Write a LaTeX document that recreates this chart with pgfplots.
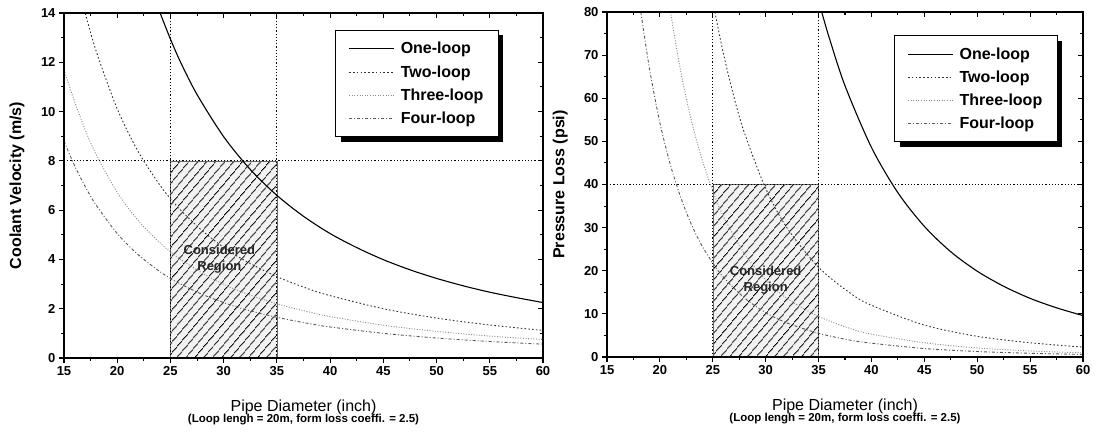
\documentclass[border=0pt]{standalone}
\usepackage{fontspec}
\setmainfont{Liberation Sans}
\usepackage{pgfplots}
\pgfplotsset{compat=1.18}
\usetikzlibrary{patterns.meta,shadows}

\makeatletter
\tikzset{nopre/.code={\let\tikz@preactions\pgfutil@empty}}
\makeatother

\tikzset{
  subtext/.style={font=\bfseries\fontsize{11.5}{12}\selectfont, anchor=center},
  crtext/.style={font=\bfseries\fontsize{13}{16}\selectfont, text=black!85, align=center},
}

\pgfplotsset{
  base/.style={
    scale only axis, height=345pt,
    xmin=15, xmax=60, xtick={15,20,...,60}, minor x tick num=1,
    axis line style={line width=1.3pt},
    tick style={line width=1.1pt, black},
    major tick length=5pt, minor tick length=3pt,
    tick label style={font=\bfseries\fontsize{13}{13}\selectfont},
    /pgf/number format/assume math mode=true,
    clip mode=individual,
  },
  frontaxis/.style={
    base, tick align=outside, xtick pos=left, ytick pos=left,
    xlabel style={at={(axis description cs:0.5,-0.143)}, anchor=center,
      font=\fontsize{16}{18}\selectfont},
    ylabel style={at={(axis description cs:-0.098,0.5)}, anchor=center,
      font=\bfseries\fontsize{16}{18}\selectfont},
    legend cell align=left,
    legend style={draw=black, line width=1pt, fill=white, font=\bfseries\fontsize{16}{19}\selectfont,
      drop shadow={shadow xshift=5pt, shadow yshift=-5pt, fill=black, opacity=1},
      inner xsep=13pt, inner ysep=10pt, row sep=6pt, column sep=4pt},
    legend image code/.code={\draw[nopre,#1] (0pt,0pt) -- (45pt,0pt);},
  },
  backaxis/.style={
    base, tick align=inside, xtick pos=right, ytick pos=right,
    xticklabels={}, yticklabels={},
  },
  one/.style={black, line width=1.1pt, smooth},
  two/.style={black!80, line width=0.9pt, dash pattern=on 1.6pt off 2.2pt, smooth},
  three/.style={black!45, line width=0.9pt, dash pattern=on 1pt off 1.6pt, smooth},
  four/.style={black!65, line width=0.9pt, dash pattern=on 3pt off 2pt on 1pt off 2pt, smooth},
  ref/.style={black, line width=0.9pt, dash pattern=on 1.2pt off 2pt},
  region/.style={draw=black!60, line width=0.5pt, fill=gray!10,
    postaction={pattern={Lines[angle=50, distance=6.5pt, line width=1.1pt]}}},
}

\begin{document}
\begin{tikzpicture}
\useasboundingbox (0,0) rectangle (1096pt,433pt);

% ---------------- left: coolant velocity ----------------
\begin{axis}[frontaxis, at={(64pt,75pt)}, anchor=south west, width=479pt,
  ymin=0, ymax=14, ytick={0,2,...,14}, minor y tick num=1,
  xlabel={Pipe Diameter (inch)}, ylabel={Coolant Velocity (m/s)},
  legend style={at={(0.908,0.951)}, anchor=north east}]
\addplot[region, forget plot] coordinates {(25,0) (25,8) (35,8) (35,0)} \closedcycle;
\addplot[ref, forget plot] coordinates {(25,0) (25,14)};
\addplot[ref, forget plot] coordinates {(35,0) (35,14)};
\addplot[ref, forget plot] coordinates {(15,8) (60,8)};
\addplot[one] coordinates {(24.03,14) (25,12.94) (26,11.96) (27.5,10.69) (30,8.98) (32.5,7.65)
  (35,6.60) (37.5,5.75) (40,5.05) (42.5,4.48) (45,3.99) (47.5,3.58) (50,3.23)
  (52.5,2.93) (55,2.67) (57.5,2.45) (60,2.25)};
\addplot[two] coordinates {(17,13.99) (18,12.48) (20,10.11) (22,8.35) (24,7.02) (25,6.47)
  (26,5.98) (28,5.16) (30,4.49) (32,3.95) (35,3.30) (38,2.80) (40,2.53) (45,2.00)
  (50,1.62) (55,1.34) (60,1.12)};
\addplot[three] coordinates {(15,11.7) (16,10.4) (17,9.25) (18,8.28) (20,6.72) (22,5.56)
  (24,4.68) (25,4.31) (26,3.99) (28,3.44) (30,2.99) (32,2.63) (35,2.20) (38,1.87)
  (40,1.68) (45,1.33) (50,1.08) (55,0.89) (60,0.75)};
\addplot[four] coordinates {(15,8.8) (16,7.8) (17,6.95) (18,6.22) (20,5.05) (22,4.18)
  (24,3.51) (25,3.23) (26,2.99) (28,2.58) (30,2.25) (32,1.97) (35,1.65) (38,1.40)
  (40,1.26) (45,1.00) (50,0.81) (55,0.67) (60,0.56)};
\legend{One-loop, Two-loop, Three-loop, Four-loop}
\node[crtext] at (axis cs:29.6,4.0) {Considered\\Region};
\node[subtext] at ([yshift=-62pt]rel axis cs:0.5,0) {(Loop lengh = 20m, form loss coeffi. = 2.5)};
\end{axis}
\begin{axis}[backaxis, at={(64pt,75pt)}, anchor=south west, width=479pt,
  ymin=0, ymax=14, ytick={0,2,...,14}, minor y tick num=1]
\end{axis}

% ---------------- right: pressure loss ----------------
\begin{axis}[frontaxis, at={(607pt,76pt)}, anchor=south west, width=476pt,
  ymin=0, ymax=80, ytick={0,10,...,80}, minor y tick num=1,
  xlabel={Pipe Diameter (inch)}, ylabel={Pressure Loss (psi)},
  legend style={at={(0.947,0.933)}, anchor=north east}]
\addplot[region, forget plot] coordinates {(25,0) (25,40) (35,40) (35,0)} \closedcycle;
\addplot[ref, forget plot] coordinates {(25,0) (25,80)};
\addplot[ref, forget plot] coordinates {(35,0) (35,80)};
\addplot[ref, forget plot] coordinates {(15,40) (60,40)};
\addplot[one] coordinates {(35.3,80) (36,74.1) (37.5,62.9) (40,48.6) (42.5,38.1) (45,30.3)
  (47.5,24.4) (50,19.9) (52.5,16.4) (55,13.6) (57.5,11.4) (60,9.6)};
\addplot[two] coordinates {(25.2,80) (26,70.4) (27,60.3) (28,51.9) (30,39.1) (32,30.0)
  (35,20.8) (38,14.8) (40,12.0) (45,7.4) (50,4.8) (55,3.3) (60,2.3)};
\addplot[three] coordinates {(21,80) (22,65.8) (23,54.6) (24,45.7) (25,38.5) (26,32.6)
  (28,23.9) (30,17.9) (32,13.6) (35,9.4) (38,6.6) (40,5.3) (45,3.3) (50,2.1)
  (55,1.4) (60,0.97)};
\addplot[four] coordinates {(18.2,80) (19,67.1) (20,54.3) (21,44.5) (22,36.8) (23,30.6)
  (24,25.7) (25,21.8) (26,18.5) (28,13.7) (30,10.3) (32,7.9) (35,5.5) (38,3.9)
  (40,3.2) (45,1.96) (50,1.27) (55,0.86) (60,0.6)};
\legend{One-loop, Two-loop, Three-loop, Four-loop}
\node[crtext] at (axis cs:30,17.8) {Considered\\Region};
\node[subtext] at ([yshift=-62pt]rel axis cs:0.5,0) {(Loop lengh = 20m, form loss coeffi. = 2.5)};
\end{axis}
\begin{axis}[backaxis, at={(607pt,76pt)}, anchor=south west, width=476pt,
  ymin=0, ymax=80, ytick={0,10,...,80}, minor y tick num=1]
\end{axis}
\end{tikzpicture}
\end{document}
